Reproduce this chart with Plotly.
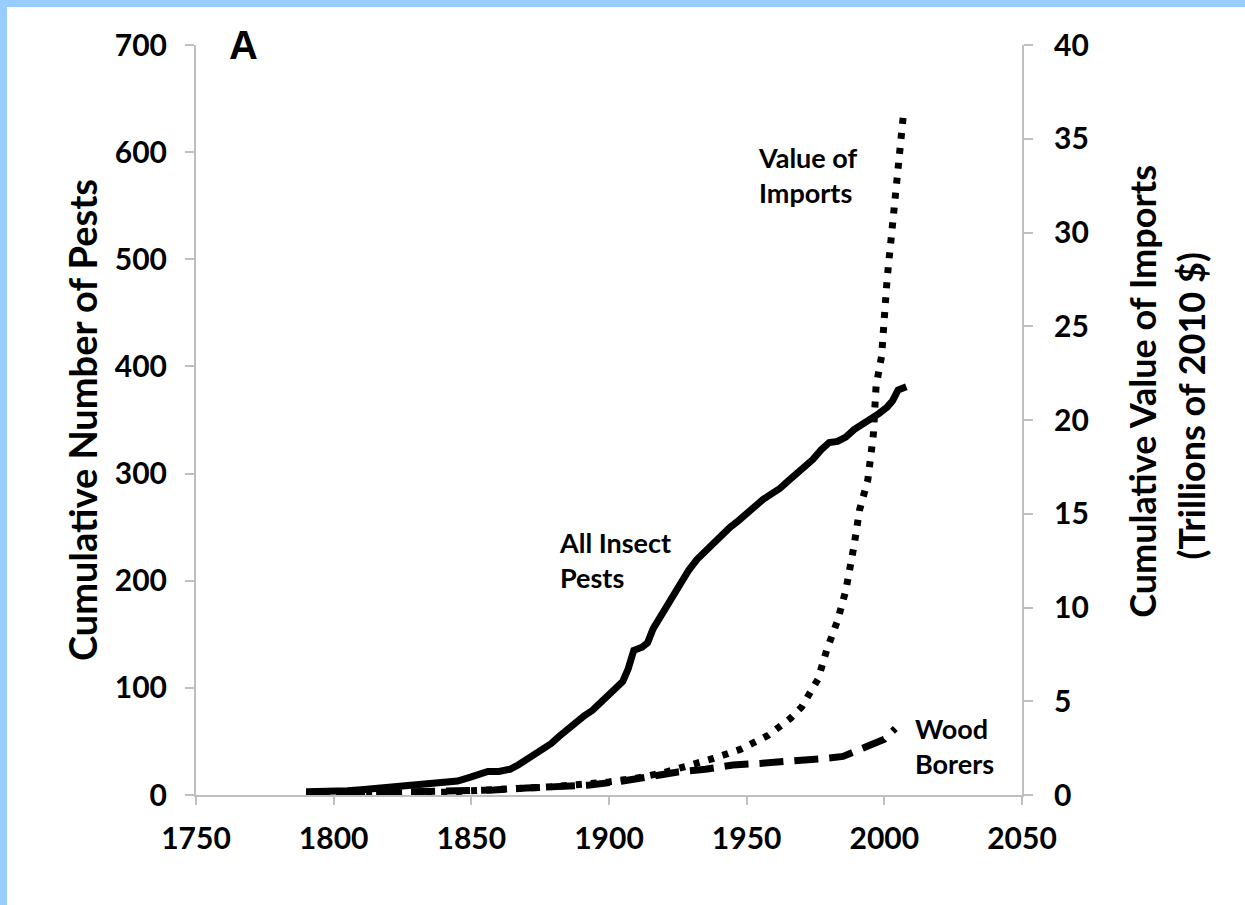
import plotly.graph_objects as go

# ---- data ----
pest_years = [1790, 1795, 1800, 1805, 1810, 1815, 1820, 1825, 1830, 1835, 1840, 1845, 1850, 1853, 1856,
              1860, 1864, 1867, 1870, 1873, 1876, 1879, 1882, 1885, 1888, 1891, 1894, 1897, 1900, 1903,
              1905, 1907, 1909, 1912, 1914, 1916, 1920, 1923, 1926, 1929, 1932, 1935, 1938, 1941, 1944,
              1947, 1950, 1953, 1956, 1959, 1962, 1965, 1968, 1971, 1974, 1977, 1980, 1983, 1986, 1989,
              1992, 1995, 1998, 2001, 2003, 2005, 2008]
pest_values = [3, 3, 3.5, 4, 5, 6, 7, 8, 9, 10, 11, 13, 17, 20, 22,
               22, 24, 28, 33, 38, 42, 48, 55, 62, 68, 74, 79, 86, 95, 100,
               106, 118, 135, 138, 142, 155, 172, 185, 198, 210, 220, 228, 236, 242, 250,
               256, 263, 270, 276, 281, 286, 293, 299, 305, 313, 322, 329, 330, 334, 341,
               346, 350, 356, 362, 368, 378, 381]

import_years = [1790, 1800, 1820, 1840, 1860, 1880, 1900, 1910, 1920, 1930, 1938, 1948, 1958, 1966,
                1970, 1976, 1979, 1983, 1986, 1989, 1991, 1994, 1996, 1997, 1999, 2001, 2003, 2005, 2007]
import_values = [0.0, 0.05, 0.1, 0.15, 0.3, 0.45, 0.7, 0.9, 1.2, 1.6, 1.95, 2.45, 3.2, 4.1,
                 4.7, 6.2, 7.7, 9.3, 10.9, 13.3, 15.2, 16.8, 19.2, 21.8, 23.4, 27.5, 30.7, 33.2, 36.4]

borer_years = [1790, 1800, 1810, 1820, 1830, 1840, 1847, 1858, 1870, 1881, 1893, 1905, 1915, 1925,
               1935, 1945, 1955, 1965, 1975, 1980, 1985, 1988, 1991, 1994, 1997, 2000, 2002, 2004]
borer_values = [1, 1.5, 2, 2, 2.5, 2.5, 3, 4.7, 6.5, 7.5, 9.3, 13, 17.5, 21.5,
                24, 28, 29.5, 31, 33, 34.5, 36, 39, 43, 46, 48, 52, 57, 62]

x_ticks = [1750, 1800, 1850, 1900, 1950, 2000, 2050]
left_ticks = [0, 100, 200, 300, 400, 500, 600, 700]
right_ticks = [0, 5, 10, 15, 20, 25, 30, 35, 40]

FONT = "Lato"
AXIS_GREY = "#bfbfbf"

fig = go.Figure()
fig.add_trace(go.Scatter(x=import_years, y=import_values, mode="lines", yaxis="y2",
                         line=dict(color="black", width=7, dash="6px,9px"), name="Value of Imports"))
fig.add_trace(go.Scatter(x=borer_years, y=borer_values, mode="lines",
                         line=dict(color="black", width=7, dash="24px,11px"), name="Wood Borers"))
fig.add_trace(go.Scatter(x=pest_years, y=pest_values, mode="lines",
                         line=dict(color="black", width=7), name="All Insect Pests"))

tickfont = dict(family=FONT, size=30, color="black", weight="bold")

fig.update_layout(
    width=1245, height=905,
    margin=dict(l=196, r=223, t=45, b=110),
    paper_bgcolor="white", plot_bgcolor="white",
    showlegend=False,
    font=dict(family=FONT, color="black", weight="bold"),
    xaxis=dict(range=[1750, 2050], tickvals=x_ticks, ticktext=[str(v) for v in x_ticks],
               showgrid=False, zeroline=False, showline=True, linecolor=AXIS_GREY, linewidth=2,
               ticks="outside", ticklen=8, tickcolor=AXIS_GREY, tickwidth=2,
               tickfont=tickfont, ticklabelstandoff=8),
    yaxis=dict(range=[0, 700], tickvals=left_ticks, ticktext=[str(v) for v in left_ticks],
               showgrid=False, zeroline=False, showline=True, linecolor=AXIS_GREY, linewidth=2,
               ticks="outside", ticklen=9, tickcolor=AXIS_GREY, tickwidth=2,
               tickfont=tickfont, ticklabelstandoff=12),
    yaxis2=dict(range=[0, 40], tickvals=right_ticks, ticktext=[str(v) for v in right_ticks],
                overlaying="y", side="right",
                showgrid=False, zeroline=False, showline=True, linecolor=AXIS_GREY, linewidth=2,
                ticks="outside", ticklen=9, tickcolor=AXIS_GREY, tickwidth=2,
                tickfont=tickfont, ticklabelstandoff=15),
)

lab = dict(family=FONT, size=27, color="black", weight="bold")
title_font_l = dict(family=FONT, size=38, color="black", weight="bold")
title_font_r = dict(family=FONT, size=36, color="black", weight="bold")
ann = [
    dict(text="A", x=0.058, y=1.0, xref="paper", yref="paper", showarrow=False,
         xanchor="center", yanchor="middle",
         font=dict(family="Liberation Sans", size=40, color="black", weight="bold")),
    dict(text="Value of<br>Imports", x=0.678, y=0.8267, xref="paper", yref="paper",
         xanchor="left", yanchor="middle", align="left", showarrow=False, font=lab),
    dict(text="All Insect<br>Pests", x=0.437, y=0.3127, xref="paper", yref="paper",
         xanchor="left", yanchor="middle", align="left", showarrow=False, font=lab),
    dict(text="Wood<br>Borers", x=0.868, y=0.0653, xref="paper", yref="paper",
         xanchor="left", yanchor="middle", align="left", showarrow=False, font=lab),
    dict(text="Cumulative Number of Pests", x=-0.138, y=0.5, xref="paper", yref="paper",
         textangle=-90, showarrow=False, xanchor="center", yanchor="middle", font=title_font_l),
    dict(text="Cumulative Value of Imports", x=1.145, y=0.5387, xref="paper", yref="paper",
         textangle=-90, showarrow=False, xanchor="center", yanchor="middle", font=title_font_r),
    dict(text="(Trillions of 2010 $)", x=1.204, y=0.5187, xref="paper", yref="paper",
         textangle=-90, showarrow=False, xanchor="center", yanchor="middle", font=title_font_r),
]
fig.update_layout(annotations=ann)

# light-blue frame on top and left edges of the page
fig.update_layout(shapes=[
    dict(type="rect", xref="paper", yref="paper", x0=-196/826, x1=(7-196)/826,
         y0=-110/750, y1=1 + 45/750, fillcolor="#99ccff", line=dict(width=0), layer="above"),
    dict(type="rect", xref="paper", yref="paper", x0=-196/826, x1=1 + 223/826,
         y0=1 + 38/750, y1=1 + 45/750, fillcolor="#99ccff", line=dict(width=0), layer="above"),
])

fig.write_html("out.html")
